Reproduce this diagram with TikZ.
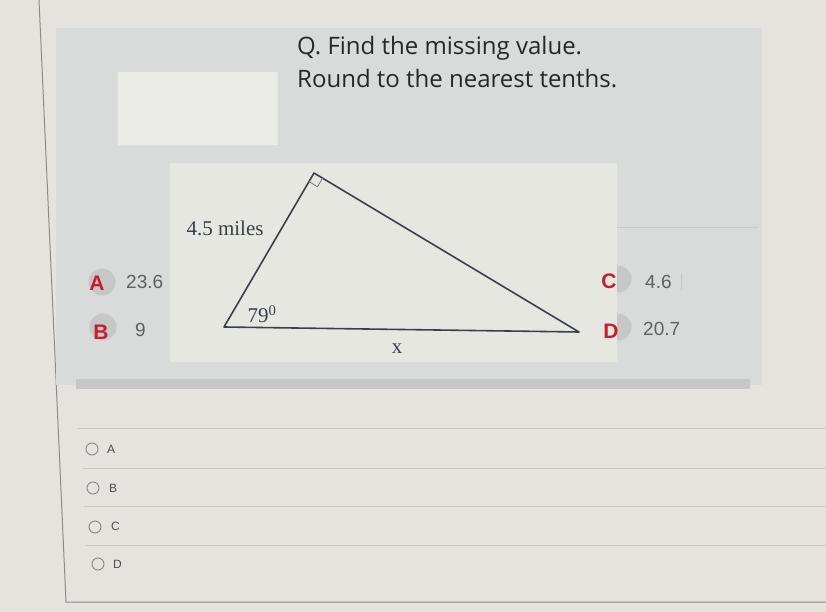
\documentclass[tikz,border=0pt]{standalone}
\usepackage{fontspec}
\setmainfont{Liberation Serif}
\newfontfamily\qfont{Open Sans}
\newfontfamily\optfont{Liberation Sans}
\usetikzlibrary{calc}
\usetikzlibrary{positioning}
\tikzset{>=latex}
\definecolor{screenbg}{HTML}{E4E3DE}
\definecolor{panelgray}{HTML}{D9DBDA}
\definecolor{boxwhite}{HTML}{EAEAE7}
\definecolor{imagebg}{HTML}{E7E7E2}
\definecolor{stripgray}{HTML}{C7C8C6}
\definecolor{rulegray}{HTML}{C9C9C5}
\definecolor{framegray}{HTML}{8C8C8A}
\definecolor{qgray}{HTML}{25272A}
\definecolor{trigray}{HTML}{3A4048}
\definecolor{ansred}{HTML}{C61F2B}
\definecolor{numgray}{HTML}{5E6064}
\definecolor{dotgray}{HTML}{C6C7C7}
\definecolor{radiogray}{HTML}{8E9090}
\definecolor{lblgray}{HTML}{4A4C4F}

\begin{document}
\begin{tikzpicture}[x=1pt, y=-1pt,
    qtext/.style={font=\qfont\fontsize{24}{29}\selectfont, text=qgray, anchor=base west, inner sep=0},
    ansdot/.style={circle, fill=dotgray, minimum size=27pt, inner sep=0},
    ansletter/.style={font=\optfont\bfseries\fontsize{21}{25}\selectfont, text=ansred, inner sep=0},
    ansnum/.style={font=\optfont\fontsize{19}{23}\selectfont, text=numgray, anchor=west, inner sep=0},
    radio/.style={circle, draw=radiogray, line width=1pt, minimum size=12pt, inner sep=0},
    radiolbl/.style={font=\optfont\fontsize{12}{14}\selectfont, text=lblgray, anchor=west, inner sep=0},
    trilbl/.style={font=\fontsize{21}{25}\selectfont, text=trigray, inner sep=0}]
    \useasboundingbox (0, 0) rectangle (826, 612);
    \fill[screenbg](0, 0) rectangle (826, 612);
    \draw[framegray, line width=1pt](39, 0)--(66, 602)--(826, 602);

    \fill[panelgray](56, 28) rectangle (762, 385);
    \fill[stripgray](76, 379) rectangle (750, 389);
    \fill[boxwhite](118, 72) rectangle (278, 145);
    \draw[rulegray](617, 227)--(758, 227);

    \node[qtext](q1) at (297, 55){Q. Find the missing value.};
    \node[qtext](q2) at (297, 88){Round to the nearest tenths.};

    \node[ansdot](dotA) at (102, 282){};
    \node[ansdot](dotB) at (103, 327){};
    \node[ansdot](dotC) at (618, 279){};
    \node[ansdot](dotD) at (618, 327){};

    \fill[imagebg](170, 163) rectangle (617, 362);
    \coordinate (T) at (314, 173);
    \coordinate (L) at (224, 327);
    \coordinate (R) at (579, 332);
    \draw[trigray, line width=1.6pt, line join=round](T)--(L)--(R)--cycle;
    \draw[trigray!70, line width=.8pt]($(T)!10pt!(L)$)--($($(T)!10pt!(L)$)+($(T)!10pt!(R)$)-(T)$)--($(T)!10pt!(R)$);
    \node[trilbl](side) at (225, 228){4.5 miles};
    \node[trilbl](ang) at (262, 314){79\textsuperscript{0}};
    \node[trilbl](base) at (397, 349){x};

    \node[ansletter](letA) at (97, 283){A};
    \node[ansnum](numA) at (126, 282){23.6};
    \node[ansletter](letB) at (101, 332){B};
    \node[ansnum](numB) at (135, 330){9};
    \node[ansletter](letC) at (609, 281){C};
    \node[ansnum](numC) at (645, 282){4.6};
    \draw[dotgray](681, 274)--(681, 290);
    \node[ansletter](letD) at (611, 331){D};
    \node[ansnum](numD) at (643, 329){20.7};

    \draw[rulegray](78, 428)--(826, 428);
    \draw[rulegray](82, 468)--(826, 468);
    \draw[rulegray](84, 506)--(826, 506);
    \draw[rulegray](86, 545)--(826, 545);

    \node[radio](rA) at (92, 449){};
    \node[radiolbl](oA) at (107, 449){A};
    \node[radio](rB) at (93, 488){};
    \node[radiolbl](oB) at (109, 488){B};
    \node[radio](rC) at (95, 527){};
    \node[radiolbl](oC) at (111, 526){C};
    \node[radio](rD) at (98, 564){};
    \node[radiolbl](oD) at (113, 564){D};
\end{tikzpicture}
\end{document}
